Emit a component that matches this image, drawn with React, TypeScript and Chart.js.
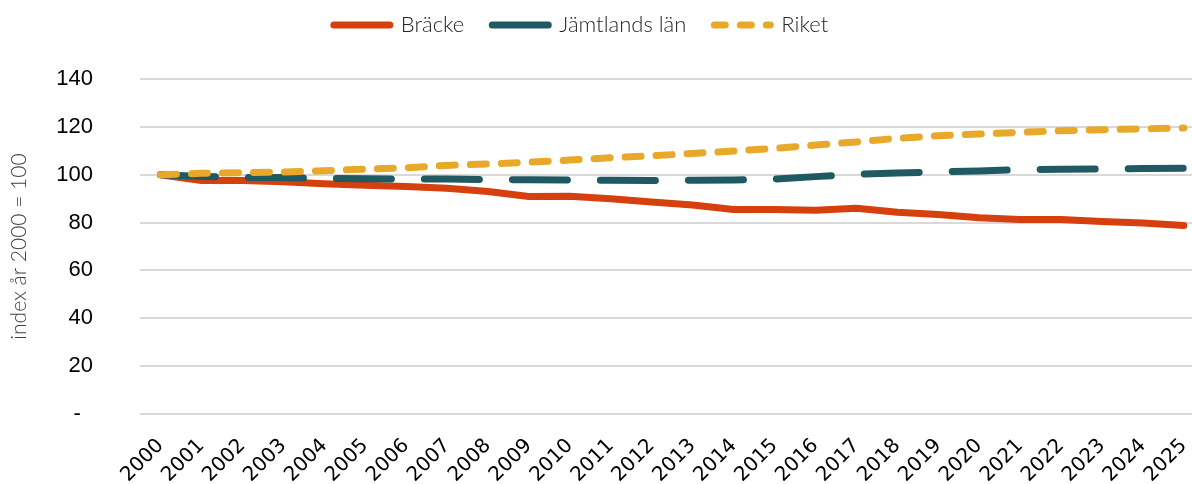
import React, { useEffect, useRef } from 'react';
import { Chart, registerables } from 'chart.js';

Chart.register(...registerables);

const years = ['2000', '2001', '2002', '2003', '2004', '2005', '2006', '2007', '2008', '2009', '2010', '2011', '2012', '2013', '2014', '2015', '2016', '2017', '2018', '2019', '2020', '2021', '2022', '2023', '2024', '2025'];
const bracke = [100, 97.6, 97.6, 97.1, 96.2, 95.6, 95.1, 94.3, 93.0, 90.9, 91.0, 90.0, 88.6, 87.3, 85.5, 85.5, 85.1, 86.0, 84.3, 83.4, 82.0, 81.3, 81.3, 80.4, 79.8, 78.8];
const jamtland = [100, 99.3, 98.9, 98.8, 98.4, 98.3, 98.2, 98.2, 98.0, 97.9, 97.8, 97.7, 97.6, 97.7, 97.8, 98.2, 99.2, 100.2, 100.7, 101.2, 101.6, 102.1, 102.3, 102.4, 102.6, 102.7];
const riket = [100, 100.6, 100.9, 101.1, 101.7, 102.3, 102.9, 103.9, 104.5, 105.2, 106.1, 107.1, 107.9, 108.9, 109.9, 111.0, 112.4, 113.7, 115.2, 116.3, 117.0, 117.7, 118.4, 118.8, 119.2, 119.5];
const seriesNames = ['Bräcke', 'Jämtlands län', 'Riket'];
const yAxisTitle = 'index år 2000 = 100';

const colors = ['#D63F0E', '#1F5961', '#E8A829'];
const lineDashes = [[], [55, 33], [16, 15]];
const legendDashes = [[], [], [11, 15]];

export default function App() {
  const ref = useRef<HTMLCanvasElement>(null);

  useEffect(() => {
    document.body.style.margin = '0';
    if (!ref.current) return;
    const legendSpace = {
      id: 'legendSpace',
      afterInit(chart: any) {
        const lg = chart.legend;
        if (!lg) return;
        const orig = lg.fit;
        lg.fit = function () {
          orig.call(this);
          this.height = 93;
          if (this.lineWidths && this.lineWidths.length) this.lineWidths[0] += 30;
        };
      },
    };
    const all = [bracke, jamtland, riket];
    const chart = new Chart(ref.current, {
      type: 'line',
      data: {
        datasets: all.map((vals, i) => ({
          label: seriesNames[i],
          data: vals.map((v, j) => ({ x: j, y: v })),
          borderColor: colors[i],
          backgroundColor: colors[i],
          borderWidth: 7,
          borderCapStyle: 'round',
          borderJoinStyle: 'round',
          borderDash: lineDashes[i],
          pointRadius: 0,
          pointHoverRadius: 0,
          tension: 0,
          fill: false,
          order: 3 - i,
        })),
      },
      options: {
        responsive: false,
        animation: false,
        layout: { padding: { top: -14, right: 0, left: 0, bottom: 0 } },
        plugins: {
          tooltip: { enabled: false },
          legend: {
            position: 'top',
            labels: {
              usePointStyle: true,
              pointStyleWidth: 56,
              padding: 28,
              color: '#262626',
              font: { family: 'Lato', weight: '300', size: 22 },
              generateLabels: (c: any) =>
                c.data.datasets.map((ds: any, i: number) => ({
                  text: ds.label,
                  fillStyle: colors[i],
                  strokeStyle: colors[i],
                  lineWidth: 7,
                  lineCap: 'round',
                  lineDash: legendDashes[i],
                  pointStyle: 'line',
                  hidden: false,
                  datasetIndex: i,
                  fontColor: '#262626',
                })),
            },
          },
        },
        scales: {
          x: {
            type: 'linear',
            min: -0.5,
            max: 25.2,
            afterFit: (s: any) => {
              s.height = 70;
              s.paddingRight = 0;
              s.paddingLeft = 0;
            },
            grid: { display: false },
            border: { display: false },
            ticks: {
              stepSize: 1,
              autoSkip: false,
              includeBounds: false,
              minRotation: 45,
              maxRotation: 45,
              padding: 12,
              color: '#000',
              font: { family: 'DejaVu Sans', size: 20 },
              callback: (v: any) => (Number.isInteger(v) && years[v] ? years[v] : ''),
            },
          },
          y: {
            min: 0,
            max: 140,
            afterFit: (s: any) => {
              s.width = 140;
            },
            border: { display: false },
            grid: { color: '#D9D9D9', lineWidth: 2, drawTicks: false },
            ticks: {
              stepSize: 20,
              autoSkip: false,
              padding: 47,
              color: '#000',
              font: { family: 'Liberation Sans', size: 22 },
              callback: (v: any) => (v === 0 ? '-\u2007' : String(v)),
            },
            title: {
              display: true,
              text: yAxisTitle,
              color: '#404040',
              font: { family: 'Lato', weight: '300', size: 21 },
              padding: { top: 7, bottom: 0 },
            },
          },
        },
      },
      plugins: [legendSpace],
    } as any);
    return () => chart.destroy();
  }, []);

  return (
    <div style={{ width: 1192, height: 484 }}>
      <canvas ref={ref} width={1192} height={484} />
    </div>
  );
}
